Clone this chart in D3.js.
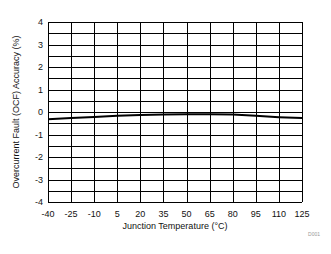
<!DOCTYPE html>
<html>
<head>
<meta charset="utf-8">
<script src="https://cdn.jsdelivr.net/npm/d3@7"></script>
<style>
body { margin: 0; background: #fff; }
text { font-family: "Liberation Sans", Arial, sans-serif; }
</style>
</head>
<body>
<script>
var temps = [-40, -25, -10, 5, 20, 35, 50, 65, 80, 95, 110, 125];
var accuracy = [-0.32, -0.27, -0.22, -0.17, -0.13, -0.11, -0.10, -0.10, -0.11, -0.17, -0.23, -0.27];
var xTicks = [-40, -25, -10, 5, 20, 35, 50, 65, 80, 95, 110, 125];
var yTicks = [-4, -3, -2, -1, 0, 1, 2, 3, 4];
var yGrid = d3.range(-4, 4.01, 0.5);

var margin = {top: 22, right: 29, bottom: 52, left: 48},
    width = 331 - margin.left - margin.right,
    height = 254 - margin.top - margin.bottom;

var svg = d3.select("body").append("svg")
    .attr("width", 331)
    .attr("height", 254);
var g = svg.append("g")
    .attr("transform", "translate(" + margin.left + "," + margin.top + ")");

var x = d3.scaleLinear().domain([-40, 125]).range([0, width]);
var y = d3.scaleLinear().domain([-4, 4]).range([height, 0]);

// grid
g.selectAll(".hgrid").data(yGrid).enter().append("line")
    .attr("x1", 0).attr("x2", width)
    .attr("y1", function (d) { return Math.round(y(d)) + 0.5; })
    .attr("y2", function (d) { return Math.round(y(d)) + 0.5; })
    .attr("stroke", "#000").attr("stroke-width", 1);
g.selectAll(".vgrid").data(xTicks).enter().append("line")
    .attr("y1", 0).attr("y2", height)
    .attr("x1", function (d) { return Math.round(x(d)) + 0.5; })
    .attr("x2", function (d) { return Math.round(x(d)) + 0.5; })
    .attr("stroke", "#000").attr("stroke-width", 1);

// tick labels
g.selectAll(".ylab").data(yTicks).enter().append("text")
    .attr("x", -5).attr("y", function (d) { return y(d) + 3; })
    .attr("text-anchor", "end")
    .attr("font-size", 9)
    .attr("fill", "#111")
    .text(function (d) { return d; });
g.selectAll(".xlab").data(xTicks).enter().append("text")
    .attr("x", function (d) { return x(d); })
    .attr("y", height + 15)
    .attr("text-anchor", "middle")
    .attr("font-size", 9)
    .attr("fill", "#111")
    .text(function (d) { return d; });

// line
var line = d3.line()
    .x(function (d, i) { return x(temps[i]); })
    .y(function (d) { return y(d); });
g.append("path")
    .datum(accuracy)
    .attr("d", line)
    .attr("fill", "none")
    .attr("stroke", "#000")
    .attr("stroke-width", 2);

// axis titles
svg.append("text")
    .attr("x", margin.left + width / 2)
    .attr("y", 229)
    .attr("text-anchor", "middle")
    .attr("font-size", 9)
    .attr("fill", "#111")
    .text("Junction Temperature (°C)");
svg.append("text")
    .attr("transform", "translate(19," + (margin.top + height / 2) + ") rotate(-90)")
    .attr("text-anchor", "middle")
    .attr("font-size", 9)
    .attr("fill", "#111")
    .text("Overcurrent Fault (OCF) Accuracy (%)");
svg.append("text")
    .attr("x", 320).attr("y", 236)
    .attr("text-anchor", "end")
    .attr("font-size", 5)
    .attr("fill", "#999")
    .text("D001");
</script>
</body>
</html>
